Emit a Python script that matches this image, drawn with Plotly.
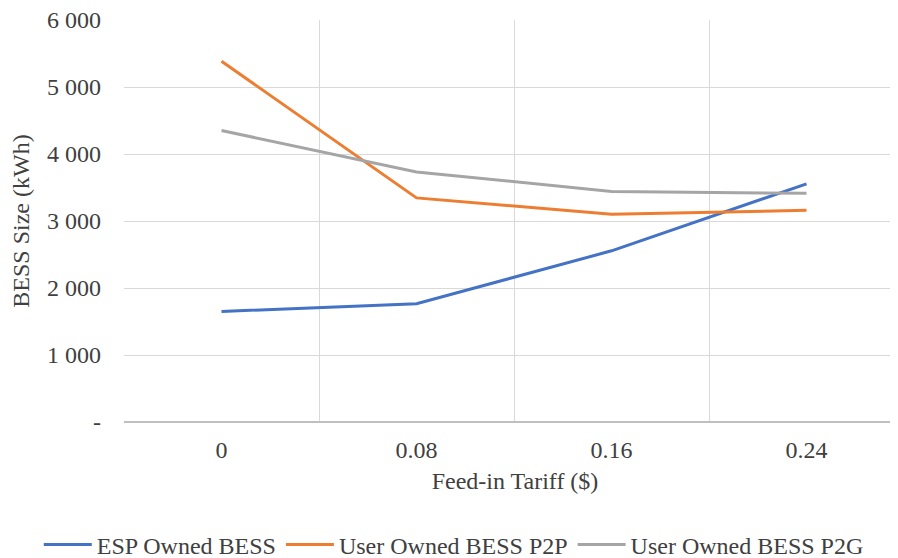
import plotly.graph_objects as go

categories = ["0", "0.08", "0.16", "0.24"]
esp_owned = [1650, 1765, 2555, 3555]
user_p2p = [5385, 3345, 3100, 3160]
user_p2g = [4350, 3732, 3442, 3413]

y_tickvals = [0, 1000, 2000, 3000, 4000, 5000, 6000]
y_ticktext = ["-", "1 000", "2 000", "3 000", "4 000", "5 000", "6 000"]

series = [
    ("ESP Owned BESS", esp_owned, "#4472C4"),
    ("User Owned BESS P2P", user_p2p, "#ED7D31"),
    ("User Owned BESS P2G", user_p2g, "#A5A5A5"),
]

FAM = "Liberation Serif"
TXT = "#404040"
FS = 24

xpos = list(range(len(categories)))
fig = go.Figure()
for name, vals, col in series:
    fig.add_trace(go.Scatter(x=xpos, y=vals, name=name, mode="lines",
                             line=dict(color=col, width=3)))

fig.update_layout(
    width=898, height=558,
    margin=dict(l=116, r=0, t=12, b=144, autoexpand=False),
    paper_bgcolor="white", plot_bgcolor="white",
    font=dict(family=FAM, size=FS, color=TXT),
    showlegend=True,
    legend=dict(orientation="h", x=-0.109, xanchor="left",
                y=-0.306, yanchor="middle",
                font=dict(family=FAM, size=FS, color=TXT),
                itemwidth=48, tracegroupgap=0),
    xaxis=dict(range=[-0.5, 3.51], tickvals=xpos, ticktext=categories,
               tickfont=dict(family=FAM, size=FS, color=TXT),
               showgrid=False, zeroline=False, showline=False, ticks="",
               ticklabelstandoff=11, automargin=False, ticklabeloverflow="allow",
               minor=dict(tickvals=[-0.5, 0.5, 1.5, 2.5, 3.5], showgrid=True,
                          gridcolor="#D9D9D9", gridwidth=1, ticks=""),
               title=dict(text="Feed-in Tariff ($)", standoff=10,
                          font=dict(family=FAM, size=FS, color=TXT))),
    yaxis=dict(range=[0, 6000], tickvals=y_tickvals, ticktext=y_ticktext,
               tickfont=dict(family=FAM, size=FS, color=TXT),
               showgrid=True, gridcolor="#D9D9D9", gridwidth=1,
               zeroline=True, zerolinecolor="#BFBFBF", zerolinewidth=1.5,
               showline=False, ticks="", ticklabelstandoff=22, automargin=False,
               ticklabeloverflow="allow",
               title=dict(text="BESS Size (kWh)", standoff=12,
                          font=dict(family=FAM, size=FS, color=TXT))),
)
fig.write_html("out.html")
